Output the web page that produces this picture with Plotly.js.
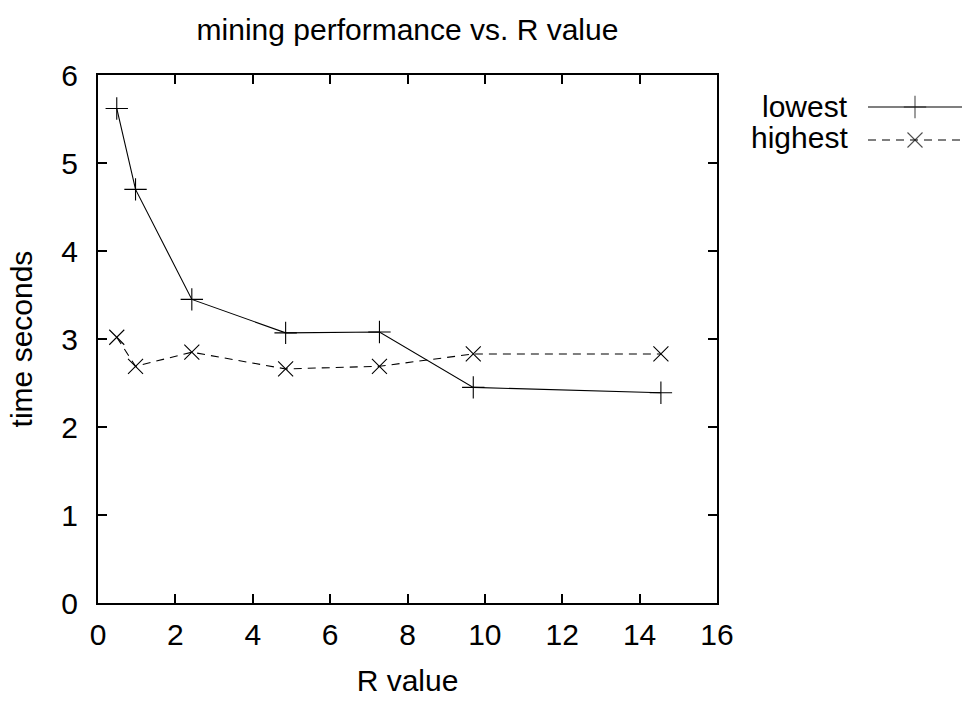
<!DOCTYPE html>
<html>
<head>
<meta charset="utf-8">
<script src="https://cdn.plot.ly/plotly-3.0.1.min.js"></script>
<style>html,body{margin:0;padding:0;background:#fff}#chart{width:963px;height:701px}</style>
</head>
<body>
<div id="chart"></div>
<script>
const rValues = [0.485, 0.97, 2.425, 4.85, 7.275, 9.7, 14.55];
const lowest = [5.62, 4.70, 3.45, 3.07, 3.08, 2.45, 2.39];
const highest = [3.02, 2.69, 2.85, 2.66, 2.69, 2.83, 2.83];
const seriesNames = ["lowest", "highest"];
const xTicks = [0, 2, 4, 6, 8, 10, 12, 14, 16];
const yTicks = [0, 1, 2, 3, 4, 5, 6];

const font = "Liberation Sans, Arial, sans-serif";
const FS = 30;
const W = 963, H = 701;
const L = 98, R = 717, T = 75, B = 603;

const lw = 1.1;
const mszP = 16, mszX = 15;
const dash = "8px,6px";
const traces = [
  {x: rValues, y: lowest, name: seriesNames[0], mode: "lines+markers", cliponaxis: false,
   line: {color: "#000", width: lw},
   marker: {symbol: "cross-thin-open", size: mszP, line: {color: "#000", width: lw}}},
  {x: rValues, y: highest, name: seriesNames[1], mode: "lines+markers", cliponaxis: false,
   line: {color: "#000", width: lw, dash: dash},
   marker: {symbol: "x-thin-open", size: mszX, line: {color: "#000", width: lw}}},
  // key samples
  {x: [0, 0.5, 1], y: [1, 1, 1], xaxis: "x2", yaxis: "y2", mode: "lines+markers", cliponaxis: false,
   line: {color: "#000", width: lw}, marker: {symbol: "cross-thin-open", size: [0, mszP, 0], line: {color: "#000", width: lw}},
   hoverinfo: "skip", showlegend: false},
  {x: [0, 0.5, 1], y: [0, 0, 0], xaxis: "x2", yaxis: "y2", mode: "lines+markers", cliponaxis: false,
   line: {color: "#000", width: lw, dash: dash}, marker: {symbol: "x-thin-open", size: [0, mszX, 0], line: {color: "#000", width: lw}},
   hoverinfo: "skip", showlegend: false}
];

const axisCommon = {
  showline: true, linecolor: "#000", linewidth: 2, mirror: "ticks",
  ticks: "inside", ticklen: 9, tickwidth: 2, tickcolor: "#000",
  showgrid: false, zeroline: false, automargin: false,
  tickfont: {family: font, size: FS, color: "#000"}
};

const keyTop = 107, keyBottom = 140, pad = 20;
const layout = {
  width: W, height: H,
  margin: {l: 0, r: 0, t: 0, b: 0, pad: 0},
  paper_bgcolor: "#fff", plot_bgcolor: "rgba(0,0,0,0)",
  showlegend: false,
  title: {text: "mining performance vs. R value", font: {family: font, size: FS, color: "#000"},
          xref: "container", x: (L + R) / 2 / W, xanchor: "center", yref: "container", y: 1 - 29 / H, yanchor: "middle"},
  xaxis: Object.assign({}, axisCommon, {domain: [L / W, R / W], range: [0, 16], tickvals: xTicks, ticktext: xTicks.map(String),
          ticklabelstandoff: 4,
          title: {text: "R value", font: {family: font, size: FS, color: "#000"}, standoff: 20}}),
  yaxis: Object.assign({}, axisCommon, {domain: [1 - B / H, 1 - T / H], range: [0, 6], tickvals: yTicks, ticktext: yTicks.map(String),
          ticklabelstandoff: 12,
          title: {text: "time seconds", font: {family: font, size: FS, color: "#000"}, standoff: 20}}),
  xaxis2: {domain: [868 / W, 962 / W], range: [0, 1], visible: false, anchor: "y2", fixedrange: true},
  yaxis2: {domain: [1 - (keyBottom + pad) / H, 1 - (keyTop - pad) / H],
           range: [-pad / (keyBottom - keyTop), 1 + pad / (keyBottom - keyTop)], visible: false, anchor: "x2", fixedrange: true},
  annotations: [
    {text: seriesNames[0], xref: "paper", yref: "paper", x: 850 / W, y: 1 - 106 / H, xanchor: "right", yanchor: "middle",
     showarrow: false, font: {family: font, size: FS, color: "#000"}},
    {text: seriesNames[1], xref: "paper", yref: "paper", x: 850 / W, y: 1 - 137 / H, xanchor: "right", yanchor: "middle",
     showarrow: false, font: {family: font, size: FS, color: "#000"}}
  ]
};

Plotly.newPlot("chart", traces, layout, {displayModeBar: false, staticPlot: true});
</script>
</body>
</html>
